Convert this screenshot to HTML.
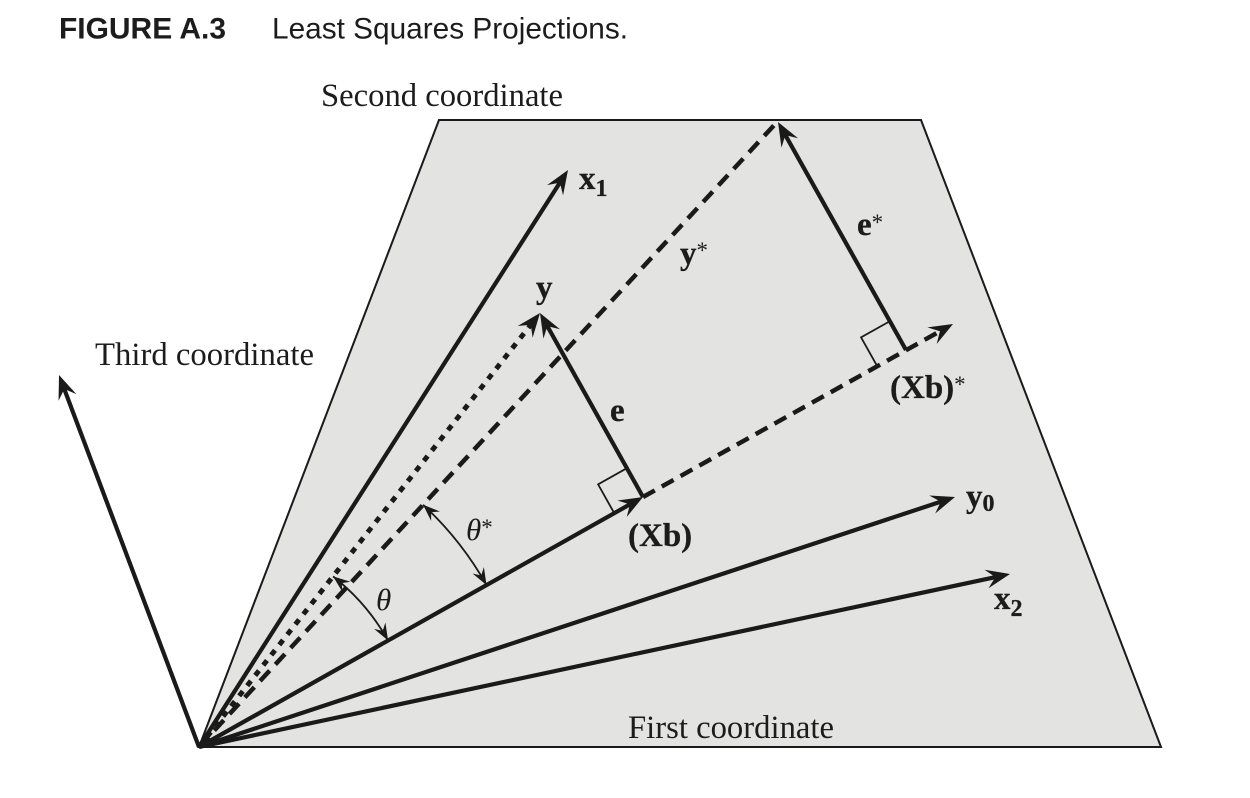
<!DOCTYPE html>
<html lang="en">
<head>
<meta charset="utf-8">
<title>Least Squares Projections</title>
<style>
html,body{margin:0;padding:0;background:#fff;width:1250px;height:798px;overflow:hidden}
svg{display:block}
text{fill:#1c1c1c;font-family:"Liberation Serif",serif}
.t{font-size:32.7px}
.b{font-size:33px;font-weight:bold;stroke:#1c1c1c;stroke-width:.3px}
.s{font-size:24px;font-weight:bold}
.st{font-size:23px;font-weight:normal;stroke:none}
.th{font-size:31px;font-style:italic}
.h{font-family:"Liberation Sans",sans-serif;font-size:29.8px}
</style>
</head>
<body>
<svg id="figure" width="1250" height="798" viewBox="0 0 1250 798" xmlns="http://www.w3.org/2000/svg">
  <text class="h" x="59" y="38.5" font-weight="bold" textLength="167" lengthAdjust="spacingAndGlyphs">FIGURE A.3</text>
  <text class="h" x="272" y="38.5" textLength="356" lengthAdjust="spacingAndGlyphs">Least Squares Projections.</text>
  <g id="marks"></g>
  <text class="t" x="321" y="106" textLength="242" lengthAdjust="spacingAndGlyphs">Second coordinate</text>
  <text class="t" x="95" y="365" textLength="219" lengthAdjust="spacingAndGlyphs">Third coordinate</text>
  <text class="t" x="628" y="738" textLength="206" lengthAdjust="spacingAndGlyphs">First coordinate</text>
  <text class="b" x="579" y="189">x<tspan class="s" dy="7">1</tspan></text>
  <text class="b" x="536" y="298">y</text>
  <text class="b" x="680" y="264">y<tspan class="st" dy="-6">*</tspan></text>
  <text class="b" x="857" y="235">e<tspan class="st" dy="-5">*</tspan></text>
  <text class="b" x="610" y="421">e</text>
  <text class="b" x="890" y="398">(Xb)<tspan class="st" dy="-6">*</tspan></text>
  <text class="b" x="628" y="546">(Xb)</text>
  <text class="b" x="966" y="507">y<tspan class="s" dy="4">0</tspan></text>
  <text class="b" x="994" y="609">x<tspan class="s" dy="7">2</tspan></text>
  <text class="th" x="376" y="610">θ</text>
  <text class="th" x="466" y="540">θ<tspan font-style="normal" class="st" dy="-5">*</tspan></text>
</svg>
<script>
// Plane corners in diagram units
const planeNames = ['origin', 'top-left', 'top-right', 'bottom-right'];
const planeX = [0, 2.40, 7.22, 9.62];
const planeY = [0, 6.27, 6.27, 0];

// Vectors measured from the origin, in diagram units
const vectorNames = ['third-coordinate', 'x1', 'x2', 'y0', 'xb'];
const vectorX = [-1.40, 3.69, 8.11, 7.56, 4.44];
const vectorY = [3.72, 5.77, 1.73, 2.50, 2.50];

const yVector = [3.41, 4.34];
const yStarVector = [5.79, 6.26];
const xbStarVector = [7.54, 4.23];
const eStarFoot = [7.07, 3.97];

// Angle markers: radius in diagram units
const thetaRadius = 2.17;
const thetaStarRadius = 3.30;
const rightAngleSize = 0.33;

const svgNS = 'http://www.w3.org/2000/svg';
const ink = '#1a1a1a';
const group = document.getElementById('marks');
const sx = v => 199 + v * 100;
const sy = v => 747 - v * 100;

function make(tag, name, attrs) {
  const el = document.createElementNS(svgNS, tag);
  
  
  for (const k in attrs) el.setAttribute(k, attrs[k]);
  group.appendChild(el);
  return el;
}
function unit(dx, dy) {
  const n = Math.hypot(dx, dy);
  return [dx / n, dy / n];
}
function head(name, tx, ty, u, L, W, N) {
  const pts = [
    [tx, ty],
    [tx - L * u[0] - W * u[1], ty - L * u[1] + W * u[0]],
    [tx - N * u[0], ty - N * u[1]],
    [tx - L * u[0] + W * u[1], ty - L * u[1] - W * u[0]]
  ].map(p => p.join(',')).join(' ');
  make('polygon', name, { points: pts, fill: ink });
}
function segment(name, a, b, width, dash, arrow) {
  const x1 = sx(a[0]), y1 = sy(a[1]), x2 = sx(b[0]), y2 = sy(b[1]);
  const u = unit(x2 - x1, y2 - y1);
  const back = arrow ? 14 : 0;
  const attrs = { x1: x1, y1: y1, x2: x2 - u[0] * back, y2: y2 - u[1] * back, stroke: ink, 'stroke-width': width };
  if (dash) attrs['stroke-dasharray'] = dash;
  make('line', name, attrs);
  if (arrow) head(name + '-arrowhead', x2, y2, u, 24, 9.5, 15);
}
function arc(name, v1, v2, r) {
  const a = Math.atan2(v1[1], v1[0]);
  const b = Math.atan2(v2[1], v2[0]);
  const px = sx(r * Math.cos(a)), py = sy(r * Math.sin(a));
  const qx = sx(r * Math.cos(b)), qy = sy(r * Math.sin(b));
  const R = r * 100;
  make('path', name, { d: `M${px} ${py}A${R} ${R} 0 0 1 ${qx} ${qy}`, fill: 'none', stroke: ink, 'stroke-width': 1.8 });
  head(name + '-start-arrowhead', px, py, [-Math.sin(a), -Math.cos(a)], 17, 6.5, 11);
  head(name + '-end-arrowhead', qx, qy, [Math.sin(b), Math.cos(b)], 17, 6.5, 11);
}
function rightAngle(name, corner, along, toward) {
  const s = rightAngleSize;
  const u1 = unit(along[0] - corner[0], along[1] - corner[1]);
  const u2 = unit(toward[0] - corner[0], toward[1] - corner[1]);
  const pts = [
    [corner[0] + u1[0] * s, corner[1] + u1[1] * s],
    [corner[0] + (u1[0] + u2[0]) * s, corner[1] + (u1[1] + u2[1]) * s],
    [corner[0] + u2[0] * s, corner[1] + u2[1] * s]
  ].map(p => sx(p[0]) + ',' + sy(p[1])).join(' ');
  make('polyline', name, { points: pts, fill: 'none', stroke: ink, 'stroke-width': 1.8 });
}

const planePoints = planeNames.map((_, i) => sx(planeX[i]) + ',' + sy(planeY[i])).join(' ');
make('polygon', 'coordinate-plane', { points: planePoints, fill: '#e3e3e2', stroke: ink, 'stroke-width': 2, 'stroke-linejoin': 'miter' });

const origin = [0, 0];
const xb = [vectorX[4], vectorY[4]];
const eStarTip = [yStarVector[0], yStarVector[1] - 0.01];

rightAngle('right-angle-e', xb, yVector, origin);
rightAngle('right-angle-e-star', eStarFoot, eStarTip, origin);

segment('xb-star-dashed-line', xb, xbStarVector, 4.5, '13.5 8', true);
segment('y-star-dashed-line', origin, yStarVector, 4.5, '14 8.5', false);
segment('y-dotted-line', origin, yVector, 5, '6 7', true);
segment('e-residual', xb, yVector, 4.2, null, true);
segment('e-star-residual', eStarFoot, eStarTip, 4.2, null, true);

vectorNames.forEach((name, i) => {
  segment(name + '-vector', origin, [vectorX[i], vectorY[i]], 4.2, null, true);
});

arc('theta-arc', yVector, xb, thetaRadius);
arc('theta-star-arc', yStarVector, xb, thetaStarRadius);
</script>
</body>
</html>
